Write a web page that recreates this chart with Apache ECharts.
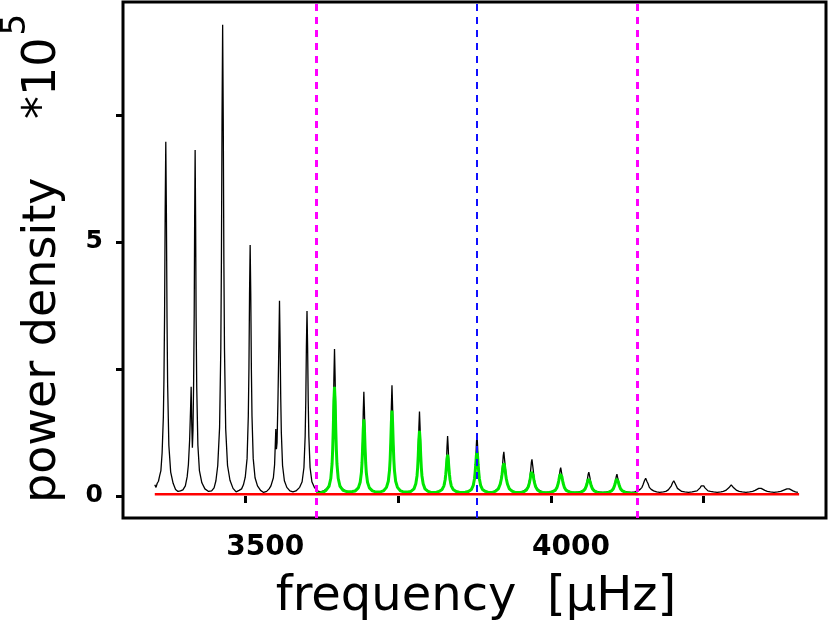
<!DOCTYPE html>
<html>
<head>
<meta charset="utf-8">
<script src="https://cdn.jsdelivr.net/npm/echarts@6/dist/echarts.min.js"></script>
<style>
html,body{margin:0;padding:0;background:#fff;}
#chart{width:830px;height:625px;}
</style>
</head>
<body>
<div id="chart"></div>
<script>
// Observed power spectrum [frequency (µHz), power density (x1e5)]
const spectrum = [
[3352,0.22],[3354,0.17],[3356,0.25],[3358,0.29],[3360,0.4],[3362,0.5],[3364,0.85],[3366,1.55],[3367,2.3],[3368,3.55],[3369,5.6],[3370,6.97],[3371,5.55],[3372,3.5],[3373,2.2],[3375,1.0],[3378,0.47],[3382,0.25],[3386,0.13],[3390,0.09],[3394,0.1],[3398,0.12],
[3402,0.2],[3405,0.38],[3407,0.62],[3409,1.1],[3410.5,1.7],[3411.5,2.15],[3412.5,1.4],[3413.5,0.95],[3414.5,1.3],[3415.5,2.2],[3416.5,3.6],[3417.2,5.4],[3418,6.81],[3418.8,5.4],[3419.6,3.5],[3420.6,2.15],[3422.5,1.0],[3425,0.5],[3429,0.26],[3434,0.14],[3440,0.09],[3445,0.1],
[3449,0.16],[3452,0.3],[3455,0.6],[3458,1.35],[3460,2.9],[3461,4.65],[3462,7.4],[3463,9.27],[3464,7.4],[3465,4.65],[3466,2.9],[3468,1.32],[3471,0.6],[3475,0.31],[3480,0.15],[3485,0.08],[3490,0.11],
[3494,0.14],[3497,0.22],[3500,0.37],[3503,0.74],[3505,1.58],[3506,2.5],[3507,3.97],[3508,4.94],[3509,3.97],[3510,2.5],[3511,1.58],[3513,0.74],[3516,0.36],[3520,0.2],[3525,0.11],[3530,0.07],[3535,0.09],
[3539,0.14],[3542,0.2],[3546,0.36],[3548,0.62],[3550,1.32],[3551,0.92],[3552,1.05],[3553.5,1.9],[3555,3.0],[3556,3.84],[3557,3.0],[3558,1.95],[3559,1.25],[3561,0.6],[3564,0.3],[3568,0.17],[3573,0.1],[3578,0.08],
[3583,0.1],[3589,0.17],[3593,0.28],[3596,0.56],[3598,1.18],[3599,1.86],[3600,2.93],[3601,3.64],[3602,2.93],[3603,1.86],[3604,1.18],[3606,0.56],[3609,0.28],[3613,0.17],[3618,0.1],[3623,0.08],
[3628,0.1],[3634,0.15],[3638,0.24],[3641,0.46],[3643,0.94],[3644,1.48],[3645,2.33],[3646,2.89],[3647,2.33],[3648,1.48],[3649,0.94],[3651,0.46],[3654,0.24],[3658,0.15],[3664,0.1],[3670,0.08],
[3676,0.09],[3682,0.12],[3686,0.19],[3689,0.34],[3691,0.68],[3692,1.06],[3693,1.65],[3694,2.05],[3695,1.65],[3696,1.06],[3697,0.68],[3699,0.34],[3702,0.19],[3706,0.12],[3711,0.09],[3717,0.07],
[3723,0.09],[3728,0.13],[3732,0.19],[3735,0.36],[3737,0.72],[3738,1.13],[3739,1.76],[3740,2.18],[3741,1.76],[3742,1.13],[3743,0.72],[3745,0.36],[3748,0.19],[3752,0.13],[3757,0.09],[3762,0.07],
[3768,0.08],[3773,0.11],[3777,0.16],[3780,0.29],[3782,0.56],[3783,0.87],[3784,1.34],[3785,1.66],[3786,1.34],[3787,0.87],[3788,0.56],[3790,0.29],[3793,0.16],[3797,0.11],[3802,0.08],[3808,0.07],
[3814,0.08],[3819,0.1],[3823,0.14],[3826,0.22],[3828,0.41],[3829,0.63],[3830,0.96],[3831,1.18],[3832,0.96],[3833,0.63],[3834,0.41],[3836,0.22],[3839,0.14],[3843,0.1],[3849,0.08],[3855,0.07],
[3861,0.08],[3867,0.1],[3871,0.14],[3874,0.23],[3876,0.43],[3877,0.65],[3878,1.0],[3879,1.23],[3880,1.0],[3881,0.65],[3882,0.43],[3884,0.23],[3887,0.14],[3891,0.1],[3896,0.08],[3901,0.07],
[3906,0.08],[3911,0.12],[3915,0.17],[3918,0.28],[3920,0.47],[3921,0.62],[3922,0.79],[3923,0.87],[3924,0.74],[3925,0.62],[3926,0.47],[3928,0.28],[3931,0.17],[3935,0.12],[3940,0.08],[3946,0.07],
[3952,0.08],[3957,0.11],[3961,0.15],[3964,0.24],[3966,0.4],[3967,0.52],[3968,0.66],[3969,0.72],[3970,0.62],[3971,0.52],[3972,0.4],[3974,0.24],[3977,0.15],[3981,0.11],[3986,0.08],[3992,0.07],
[3998,0.08],[4004,0.1],[4008,0.13],[4011,0.2],[4013,0.31],[4014,0.41],[4015,0.51],[4016,0.56],[4017,0.49],[4018,0.41],[4019,0.31],[4021,0.2],[4024,0.13],[4028,0.1],[4033,0.08],[4039,0.07],
[4045,0.08],[4050,0.09],[4054,0.12],[4057,0.18],[4059,0.27],[4060,0.35],[4061,0.43],[4062,0.47],[4063,0.41],[4064,0.35],[4065,0.27],[4067,0.18],[4070,0.12],[4074,0.09],[4079,0.08],[4085,0.07],
[4091,0.08],[4096,0.09],[4100,0.11],[4103,0.17],[4105,0.25],[4106,0.32],[4107,0.39],[4108,0.43],[4109,0.37],[4110,0.32],[4111,0.25],[4113,0.17],[4116,0.11],[4120,0.09],[4125,0.08],[4131,0.07],
[4137,0.08],[4142,0.1],[4146,0.13],[4149,0.17],[4151,0.23],[4153,0.3],[4155,0.35],[4157,0.29],[4159,0.24],[4161,0.17],[4164,0.13],[4168,0.1],[4173,0.08],[4178,0.07],
[4184,0.08],[4188,0.09],[4192,0.12],[4195,0.15],[4197,0.2],[4199,0.26],[4201,0.30],[4203,0.25],[4205,0.2],[4207,0.15],[4210,0.12],[4214,0.09],[4219,0.08],[4225,0.07],
[4231,0.08],[4235,0.09],[4239,0.1],[4242,0.13],[4244,0.16],[4246,0.2],[4248,0.23],[4250,0.2],[4252,0.16],[4254,0.13],[4257,0.1],[4261,0.09],[4266,0.08],[4272,0.07],
[4278,0.08],[4282,0.09],[4286,0.11],[4289,0.13],[4291,0.16],[4293,0.19],[4295,0.22],[4297,0.19],[4299,0.16],[4301,0.13],[4304,0.11],[4308,0.09],[4313,0.08],[4319,0.07],
[4325,0.08],[4330,0.09],[4334,0.11],[4337,0.13],[4340,0.15],[4342,0.14],[4344,0.15],[4347,0.13],[4350,0.11],[4354,0.09],[4359,0.08],[4365,0.07],
[4371,0.08],[4376,0.09],[4380,0.11],[4383,0.13],[4386,0.14],[4388,0.13],[4390,0.14],[4393,0.12],[4396,0.1],[4400,0.08],[4404,0.07]
];

// Fitted mode profiles (green) between the fit-range limits
const fitCurve = [
[3616,0.05],[3623,0.06],[3628,0.08],[3632,0.11],[3637,0.19],[3640,0.35],[3642,0.63],[3643,0.91],[3644,1.33],[3645,1.86],[3646,2.15],[3647,1.86],[3648,1.33],[3649,0.91],[3650,0.63],[3652,0.35],[3655,0.19],[3660,0.11],[3665,0.09],[3670,0.085],
[3675,0.09],[3680,0.1],[3685,0.16],[3688,0.27],[3690,0.46],[3691,0.65],[3692,0.95],[3693,1.31],[3694,1.51],[3695,1.31],[3696,0.95],[3697,0.65],[3698,0.46],[3700,0.27],[3703,0.16],[3708,0.1],[3712,0.085],[3717,0.08],
[3722,0.085],[3726,0.1],[3731,0.17],[3734,0.29],[3736,0.51],[3737,0.72],[3738,1.05],[3739,1.45],[3740,1.68],[3741,1.45],[3742,1.05],[3743,0.72],[3744,0.51],[3746,0.29],[3749,0.17],[3754,0.1],[3758,0.085],[3762,0.08],
[3767,0.085],[3771,0.09],[3776,0.14],[3779,0.24],[3781,0.4],[3782,0.56],[3783,0.8],[3784,1.11],[3785,1.28],[3786,1.11],[3787,0.8],[3788,0.56],[3789,0.4],[3791,0.24],[3794,0.14],[3799,0.09],[3803,0.075],[3808,0.07],
[3813,0.075],[3817,0.09],[3822,0.13],[3825,0.2],[3827,0.32],[3828,0.43],[3829,0.57],[3830,0.73],[3831,0.81],[3832,0.73],[3833,0.57],[3834,0.43],[3835,0.32],[3837,0.2],[3840,0.13],[3845,0.09],[3850,0.075],[3855,0.07],
[3860,0.075],[3865,0.09],[3870,0.13],[3873,0.21],[3875,0.34],[3876,0.46],[3877,0.61],[3878,0.79],[3879,0.87],[3880,0.79],[3881,0.61],[3882,0.46],[3883,0.34],[3885,0.21],[3888,0.13],[3893,0.09],[3897,0.075],[3901,0.07],
[3905,0.075],[3909,0.09],[3914,0.14],[3917,0.23],[3919,0.34],[3920,0.42],[3921,0.52],[3922,0.6],[3923,0.64],[3924,0.6],[3925,0.52],[3926,0.42],[3927,0.34],[3929,0.23],[3932,0.14],[3937,0.09],[3941,0.075],[3946,0.07],
[3951,0.075],[3955,0.08],[3960,0.12],[3963,0.18],[3965,0.27],[3966,0.33],[3967,0.41],[3968,0.47],[3969,0.5],[3970,0.47],[3971,0.41],[3972,0.33],[3973,0.27],[3975,0.18],[3978,0.12],[3983,0.08],[3987,0.07],[3992,0.065],
[3997,0.07],[4002,0.08],[4007,0.11],[4010,0.17],[4012,0.25],[4013,0.31],[4014,0.38],[4015,0.43],[4016,0.46],[4017,0.43],[4018,0.38],[4019,0.31],[4020,0.25],[4022,0.17],[4025,0.11],[4030,0.08],[4034,0.07],[4039,0.065],
[4044,0.065],[4048,0.07],[4053,0.1],[4056,0.14],[4058,0.2],[4059,0.24],[4060,0.29],[4061,0.33],[4062,0.35],[4063,0.33],[4064,0.29],[4065,0.24],[4066,0.2],[4068,0.14],[4071,0.1],[4076,0.07],[4080,0.065],[4085,0.06],
[4090,0.065],[4094,0.07],[4099,0.1],[4102,0.14],[4104,0.2],[4105,0.24],[4106,0.29],[4107,0.33],[4108,0.35],[4109,0.33],[4110,0.29],[4111,0.24],[4112,0.2],[4114,0.14],[4117,0.1],[4122,0.07],[4131,0.055],[4142,0.045]
];

// Background level (red)
const background = [[3352,0.035],[4406,0.035]];

// Fit range limits (magenta) and nu_max (blue)
const fitRange = [3616, 4142];
const numax = [3879];

// Axes
const xTicks = [3500, 3750, 4000, 4250];
const xLabels = [3500, 4000];
const yTicks = [0, 2.5, 5, 7.5];
const yLabels = [0, 5];
const xRange = [3300, 4450];
const yRange = [-0.433, 9.72];

const FONT = 'DejaVu Sans';
const chart = echarts.init(document.getElementById('chart'), null, {renderer: 'canvas'});

const markData = fitRange.map(v => ({xAxis: v, lineStyle: {color: '#ff00ff', width: 3, type: [7, 6]}}))
  .concat(numax.map(v => ({xAxis: v, lineStyle: {color: '#1010ff', width: 2, type: [7, 6]}})));

chart.setOption({
  animation: false,
  backgroundColor: '#ffffff',
  grid: {left: 123, right: 4, top: 2, bottom: 107, show: true, borderColor: '#000', borderWidth: 3, backgroundColor: 'transparent'},
  xAxis: {
    type: 'value', min: xRange[0], max: xRange[1],
    axisLine: {show: false},
    splitLine: {show: false},
    axisTick: {show: true, inside: false, length: 7, customValues: xTicks, lineStyle: {color: '#000', width: 3}},
    axisLabel: {show: true, customValues: xLabels, margin: 16, padding: [0, 0, 0, 40],
      formatter: v => String(v),
      fontFamily: FONT, fontSize: 28, fontWeight: 'bold', color: '#000'}
  },
  yAxis: {
    type: 'value', min: yRange[0], max: yRange[1],
    axisLine: {show: false},
    splitLine: {show: false},
    axisTick: {show: true, inside: false, length: 7, customValues: yTicks, lineStyle: {color: '#000', width: 3}},
    axisLabel: {show: true, customValues: yLabels, margin: 20,
      formatter: v => String(v),
      fontFamily: FONT, fontSize: 25, fontWeight: 'bold', color: '#000'}
  },
  graphic: [
    {type: 'text', x: 476, y: 598, silent: true,
      style: {text: 'frequency  [μHz]', fontFamily: FONT, fontSize: 48, fill: '#000', align: 'center', verticalAlign: 'middle'}},
    {type: 'text', x: 43, y: 503, rotation: Math.PI / 2, silent: true,
      style: {
        text: '{m|power density    *10}{s|5}',
        align: 'left', verticalAlign: 'middle',
        rich: {
          m: {fontFamily: FONT, fontSize: 46, fill: '#000', color: '#000', verticalAlign: 'middle'},
          s: {fontFamily: FONT, fontSize: 34, fill: '#000', color: '#000', verticalAlign: 'top', padding: [0, 0, 54, 2]}
        }
      }}
  ],
  series: [
    {type: 'line', data: spectrum, showSymbol: false, symbol: 'none', z: 2,
      lineStyle: {color: '#000', width: 1.3}, silent: true},
    {type: 'line', data: fitCurve, showSymbol: false, symbol: 'none', z: 3,
      lineStyle: {color: '#00e600', width: 3}, silent: true},
    {type: 'line', data: background, showSymbol: false, symbol: 'none', z: 4,
      lineStyle: {color: '#ff0000', width: 2.5}, silent: true,
      markLine: {silent: true, symbol: ['none', 'none'], label: {show: false}, z: 5, data: markData}}
  ]
});
</script>
</body>
</html>
